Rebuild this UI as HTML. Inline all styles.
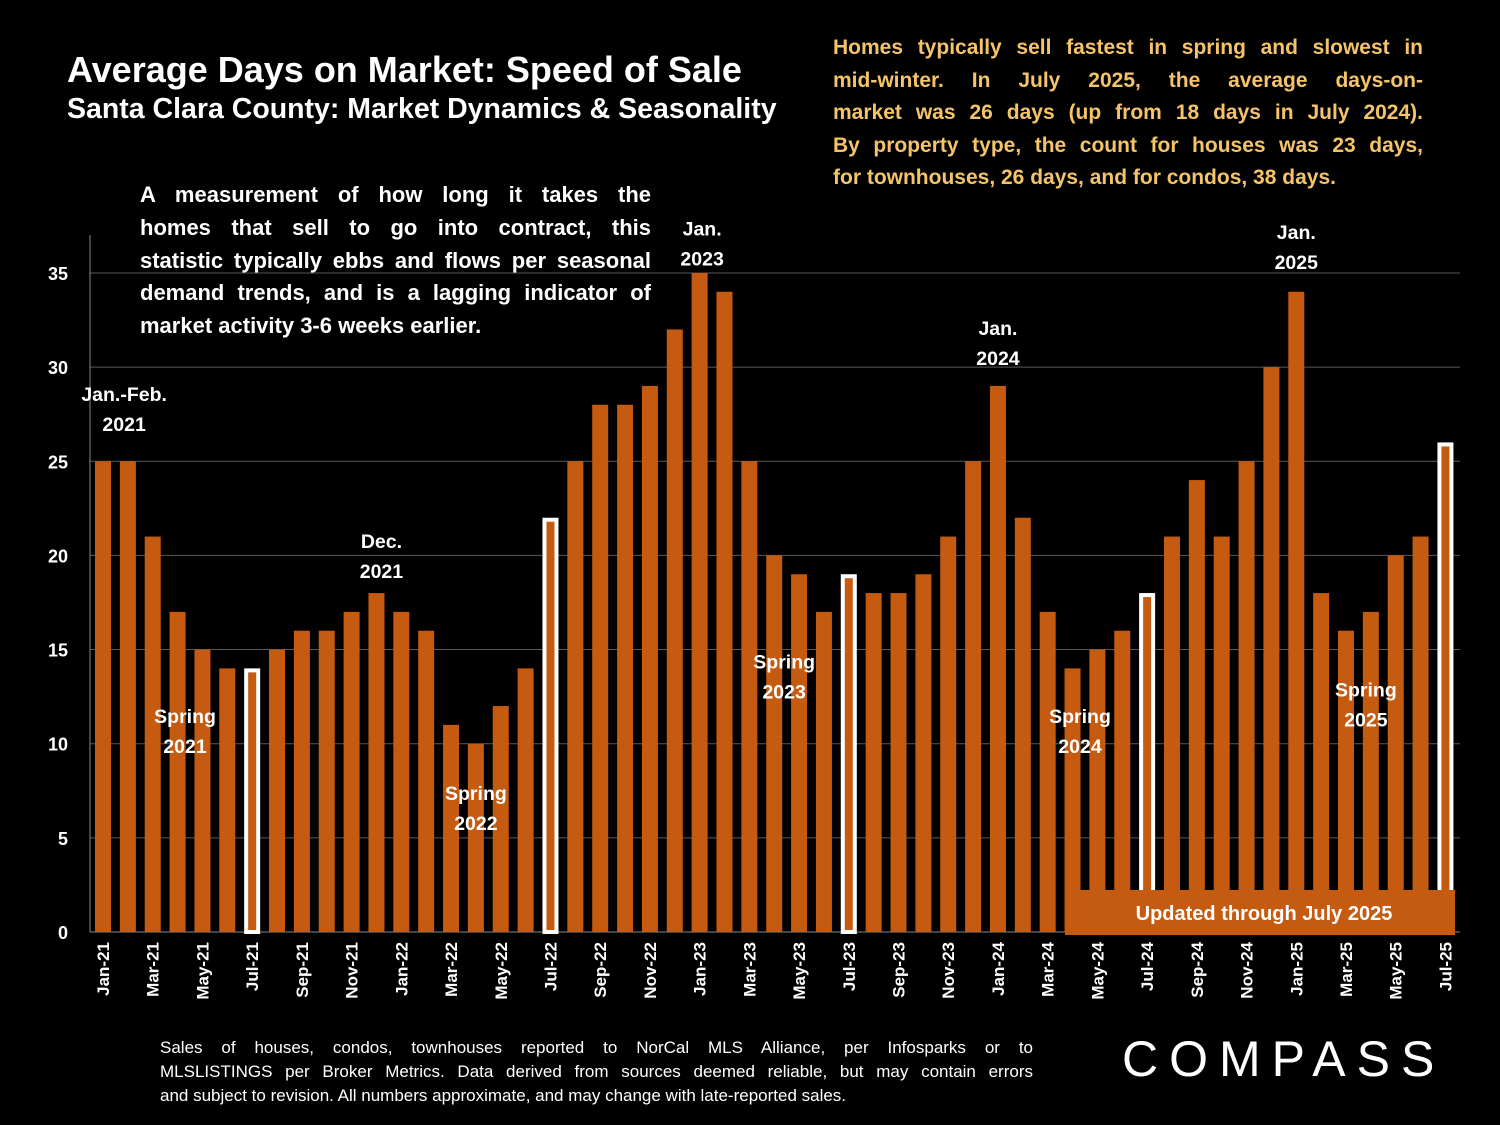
<!DOCTYPE html>
<html><head><meta charset="utf-8"><style>
body{margin:0;background:#000;width:1500px;height:1125px;overflow:hidden;font-family:"Liberation Sans",sans-serif;}
.t{position:absolute;font-weight:bold;}
.j{text-align:justify;text-align-last:justify;}
</style></head><body>
<div class="t" style="left:67px;top:49px;color:#fff;font-size:36px;">Average Days on Market: Speed of Sale</div>
<div class="t" style="left:67px;top:93px;color:#fff;font-size:28.5px;">Santa Clara County: Market Dynamics &amp; Seasonality</div>
<div class="t" style="left:833px;top:32px;width:590px;color:#F5C46A;font-size:21px;line-height:32.5px;">
<div class="j">Homes typically sell fastest in spring and slowest in</div>
<div class="j">mid-winter. In July 2025, the average days-on-</div>
<div class="j">market was 26 days (up from 18 days in July 2024).</div>
<div class="j">By property type, the count for houses was 23 days,</div>
<div>for townhouses, 26 days, and for condos, 38 days.</div></div>
<div class="t" style="left:140px;top:179px;width:511px;color:#fff;font-size:22px;line-height:32.8px;">
<div class="j">A measurement of how long it takes the</div>
<div class="j">homes that sell to go into contract, this</div>
<div class="j">statistic typically ebbs and flows per seasonal</div>
<div class="j">demand trends, and is a lagging indicator of</div>
<div>market activity 3-6 weeks earlier.</div></div>
<div style="position:absolute;left:160px;top:1036px;width:873px;color:#fff;font-size:17px;line-height:24px;">
<div class="j">Sales of houses, condos, townhouses reported to NorCal MLS Alliance, per Infosparks or to</div>
<div class="j">MLSLISTINGS per Broker Metrics. Data derived from sources deemed reliable, but may contain errors</div>
<div>and subject to revision. All numbers approximate, and may change with late-reported sales.</div></div>
<div style="position:absolute;left:1122px;top:1030px;color:#fff;font-size:50px;letter-spacing:11px;">COMPASS</div>
<svg id="c" width="1500" height="1125" style="position:absolute;left:0;top:0" xmlns="http://www.w3.org/2000/svg"></svg>
<script>
const months=["Jan-21","Feb-21","Mar-21","Apr-21","May-21","Jun-21","Jul-21","Aug-21","Sep-21","Oct-21","Nov-21","Dec-21","Jan-22","Feb-22","Mar-22","Apr-22","May-22","Jun-22","Jul-22","Aug-22","Sep-22","Oct-22","Nov-22","Dec-22","Jan-23","Feb-23","Mar-23","Apr-23","May-23","Jun-23","Jul-23","Aug-23","Sep-23","Oct-23","Nov-23","Dec-23","Jan-24","Feb-24","Mar-24","Apr-24","May-24","Jun-24","Jul-24","Aug-24","Sep-24","Oct-24","Nov-24","Dec-24","Jan-25","Feb-25","Mar-25","Apr-25","May-25","Jun-25","Jul-25"];
const days=[25,25,21,17,15,14,14,15,16,16,17,18,17,16,11,10,12,14,22,25,28,28,29,32,35,34,25,20,19,17,19,18,18,19,21,25,29,22,17,14,15,16,18,21,24,21,25,30,34,18,16,17,20,21,26];
const yTicks=[0,5,10,15,20,25,30,35];
const notes=[["Jan.-Feb.","2021",0.85,28.2],["Spring","2021",3.3,11.1],["Dec.","2021",11.2,20.4],["Spring","2022",15.0,7.0],["Jan.","2023",24.1,37.0],["Spring","2023",27.4,14.0],["Jan.","2024",36.0,31.7],["Spring","2024",39.3,11.1],["Jan.","2025",48.0,36.8],["Spring","2025",50.8,12.5]];
const svg=document.getElementById('c');const NS="http://www.w3.org/2000/svg";
const y0=932,ppu=18.83,x0=103,step=24.86;
const Y=v=>y0-v*ppu, X=i=>x0+i*step;
function el(t,a,p){const e=document.createElementNS(NS,t);for(const k in a)e.setAttribute(k,a[k]);(p||svg).appendChild(e);return e;}
yTicks.forEach(v=>{
 if(v>0){const g=el('line',{x1:90,x2:1460,y1:Y(v),y2:Y(v),stroke:'#595959','stroke-width':1});
 
 }
 const t=el('text',{x:68,y:Y(v)+7,fill:'#fff','font-size':18,'font-weight':'bold','text-anchor':'end'});t.textContent=v;
 
 
});
const ax=el('line',{x1:90,x2:90,y1:235,y2:y0,stroke:'#888'});


const xa=el('line',{x1:90,x2:1460,y1:y0,y2:y0,stroke:'#888'});


days.forEach((v,i)=>{
 const w=(months[i].startsWith('Jul'));
 let r;
 if(w){r=el('rect',{x:X(i)-6,y:Y(v)+2,width:12,height:v*ppu-2,fill:'#C55A11',stroke:'#fff','stroke-width':4});}
 else r=el('rect',{x:X(i)-8,y:Y(v),width:16,height:v*ppu,fill:'#C55A11'});
 
 
 if(i%2==0){const t=el('text',{x:0,y:0,fill:'#fff','font-size':17,'font-weight':'bold','text-anchor':'end',transform:`translate(${X(i)+6},${y0+10}) rotate(-90)`});t.textContent=months[i];
 
 }
});
notes.forEach(n=>{
 const t=el('text',{x:X(n[2]),y:Y(n[3]),fill:'#fff','font-size':19.5,'font-weight':'bold','text-anchor':'middle'});
 
 
 const a=el('tspan',{x:X(n[2]),dy:0},t);a.textContent=n[0];
 const b=el('tspan',{x:X(n[2]),dy:30},t);b.textContent=n[1];
});
const bx=el('rect',{x:1065,y:890,width:390,height:45,fill:'#C55A11'});


const bt=el('text',{x:1264,y:920,fill:'#fff','font-size':20,'font-weight':'bold','text-anchor':'middle'});bt.textContent='Updated through July 2025';


</script>
</body></html>
